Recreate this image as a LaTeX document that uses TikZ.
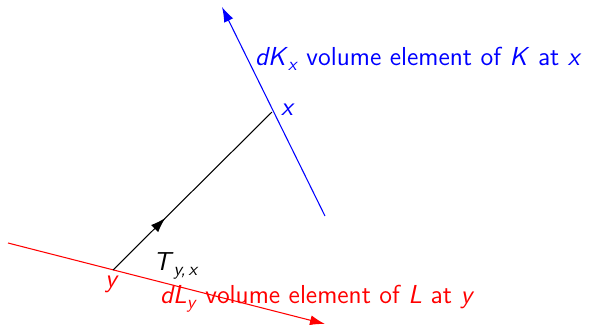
\documentclass[tikz,border=0pt]{standalone}
\usepackage{tikz}
\usetikzlibrary{arrows.meta,positioning,calc,decorations.markings}
\renewcommand{\familydefault}{\sfdefault}
\newcommand{\lowsub}[1]{\raisebox{-0.45ex}{\fontsize{10.5}{12}\selectfont\textit{#1}}}
\tikzset{
  surf/.style  ={-{Latex[length=3mm,width=2mm]}, semithick},
  ray/.style   ={semithick, postaction={decorate}, decoration={markings,
                 mark=at position 0.33 with {\arrow{Latex[length=3mm,width=2mm]}}}},
  lbl/.style   ={font=\fontsize{14.8}{18}\selectfont, inner sep=1pt}
}

\begin{document}
\begin{tikzpicture}[x=0.02cm,y=-0.02cm]
  \useasboundingbox (0,0) rectangle (600,325);
  \coordinate (lstart) at (8,243);
  \coordinate (lend)   at (325,324);
  \coordinate (kstart) at (325,216);
  \coordinate (kend)   at (222,7);
  \coordinate (y) at (113,270);
  \coordinate (x) at (272,112);
  \draw[surf, red]  (lstart) -- (lend);
  \draw[surf, blue] (kstart) -- (kend);
  \draw[ray] (y) -- (x);
  \node[lbl, red]  (ylbl) at (112,284) {\textit{y}};
  \node[lbl, blue] (xlbl) at (288,110) {\textit{x}};
  \node[lbl]       (tlbl) at (176,266) {\textit{T}\lowsub{y,\,x}};
  \node[lbl, blue, anchor=west] (klbl) at (253,59)
    {\textit{dK}\lowsub{x} volume element of \textit{K} at \textit{x}};
  \node[lbl, red, anchor=west]  (llbl) at (158,299)
    {\textit{dL}\lowsub{y} volume element of \textit{L} at \textit{y}};
\end{tikzpicture}
\end{document}
